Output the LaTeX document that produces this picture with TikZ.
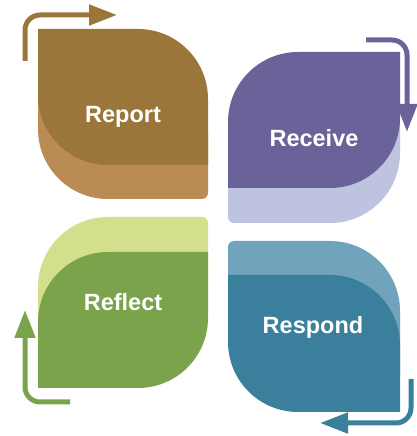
\documentclass[tikz,border=0pt]{standalone}
\usepackage{fontspec}
\setmainfont{Liberation Sans}
\usetikzlibrary{arrows.meta}
\definecolor{repD}{HTML}{9B763A}
\definecolor{repL}{HTML}{BA8B55}
\definecolor{recD}{HTML}{6A6399}
\definecolor{recL}{HTML}{BEC3DF}
\definecolor{refD}{HTML}{7BA34C}
\definecolor{refL}{HTML}{D3E08B}
\definecolor{resD}{HTML}{3A7F9C}
\definecolor{resL}{HTML}{72A3BD}
\tikzset{
  lbl/.style={text=white, font=\bfseries\fontsize{23.5}{28}\selectfont, inner sep=0pt, anchor=base},
  cyc/.style={line width=5pt, rounded corners=15pt, -{Triangle[width=20pt,length=28pt]}}
}
\begin{document}
\begin{tikzpicture}[x=1pt,y=1pt]
\useasboundingbox (0,0) rectangle (416,436);
% Report (top-left)
\fill[repL] (38,373) -- (138,373) arc[start angle=90,end angle=0,radius=70pt] -- (208,243) arc[start angle=0,end angle=-90,radius=6pt] -- (108,237) arc[start angle=270,end angle=180,radius=70pt] -- cycle;
\fill[repD] (38,407) -- (138,407) arc[start angle=90,end angle=0,radius=70pt] -- (208,271) -- (108,271) arc[start angle=270,end angle=180,radius=70pt] -- cycle;
\node[lbl] (report) at (123,313.5) {Report};
% Receive (top-right)
\fill[recL] (228,219) -- (228,279) arc[start angle=180,end angle=90,radius=70pt] -- (400,349) -- (400,283) arc[start angle=0,end angle=-90,radius=70pt] -- (234,213) arc[start angle=270,end angle=180,radius=6pt] -- cycle;
\fill[recD] (228,248) -- (228,314) arc[start angle=180,end angle=90,radius=70pt] -- (400,384) -- (400,318) arc[start angle=0,end angle=-90,radius=70pt] -- cycle;
\node[lbl] (receive) at (314,289.5) {Receive};
% Reflect (bottom-left)
\fill[refL] (38,83) -- (38,149) arc[start angle=180,end angle=90,radius=70pt] -- (202,219) arc[start angle=90,end angle=0,radius=6pt] -- (208,153) arc[start angle=0,end angle=-90,radius=70pt] -- cycle;
\fill[refD] (38,48) -- (38,114) arc[start angle=180,end angle=90,radius=70pt] -- (208,184) -- (208,118) arc[start angle=0,end angle=-90,radius=70pt] -- cycle;
\node[lbl] (reflect) at (123,125.5) {Reflect};
% Respond (bottom-right)
\fill[resL] (228,189) arc[start angle=180,end angle=90,radius=6pt] -- (330,195) arc[start angle=90,end angle=0,radius=70pt] -- (400,58) -- (298,58) arc[start angle=270,end angle=180,radius=70pt] -- cycle;
\fill[resD] (228,161) -- (330,161) arc[start angle=90,end angle=0,radius=70pt] -- (400,24) -- (298,24) arc[start angle=270,end angle=180,radius=70pt] -- cycle;
\node[lbl] (respond) at (313,102) {Respond};
% arrows
\coordinate (a1s) at (25,375); \coordinate (a1c) at (25,421); \coordinate (a1e) at (117,421);
\coordinate (a2s) at (366,396); \coordinate (a2c) at (407,396); \coordinate (a2e) at (407,304);
\coordinate (a3s) at (411,57); \coordinate (a3c) at (411,13); \coordinate (a3e) at (320,13);
\coordinate (a4s) at (70,34); \coordinate (a4c) at (25,34); \coordinate (a4e) at (25,126);
\draw[cyc, repD] (a1s) -- (a1c) -- (a1e);
\draw[cyc, recD] (a2s) -- (a2c) -- (a2e);
\draw[cyc, resD] (a3s) -- (a3c) -- (a3e);
\draw[cyc, refD] (a4s) -- (a4c) -- (a4e);
\end{tikzpicture}
\end{document}
